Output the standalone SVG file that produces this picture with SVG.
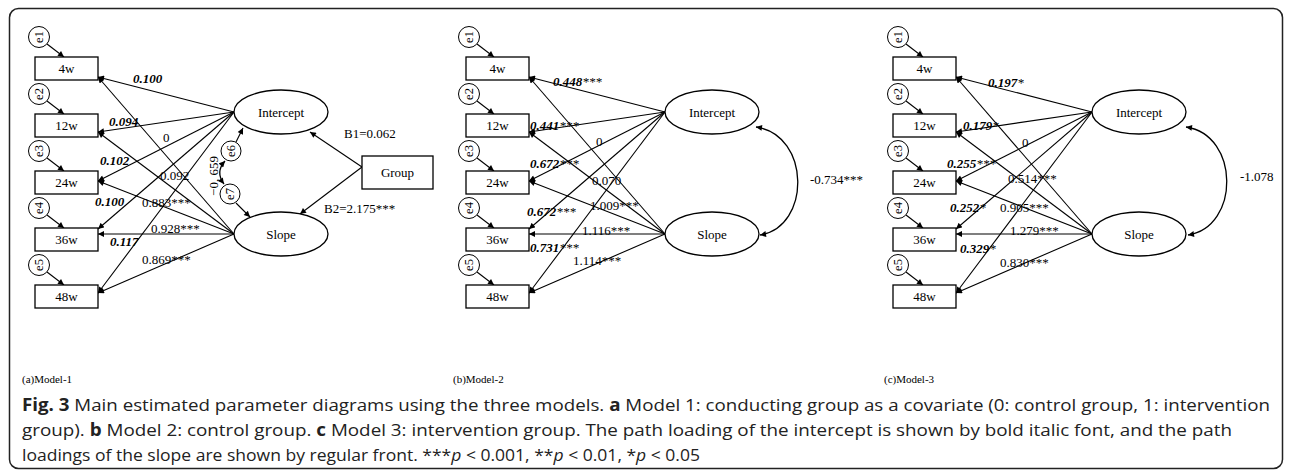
<svg xmlns="http://www.w3.org/2000/svg" width="1292" height="470" viewBox="0 0 1292 470">
<defs>
<marker id="ah" viewBox="0 0 10 10" refX="10" refY="5" markerWidth="7" markerHeight="6" orient="auto-start-reverse" markerUnits="userSpaceOnUse"><path d="M0,0 L10,5 L0,10 z" fill="#000"/></marker>
<style>
.box{fill:#fff;stroke:#000;stroke-width:1.3}
.ell{fill:#fff;stroke:#000;stroke-width:1.3}
.err{fill:#fff;stroke:#000;stroke-width:1}
.t{font-family:"Liberation Serif",serif;font-size:13px;fill:#000}
.c{text-anchor:middle}
.et{font-family:"Liberation Serif",serif;font-size:12.5px;fill:#000;text-anchor:middle}
.bi{font-weight:bold;font-style:italic}
.n{font-weight:normal}
.lab{font-family:"Liberation Serif",serif;font-size:11px;fill:#000}
.cap{font-family:"Open Sans","Noto Sans",sans-serif;font-size:17px;fill:#222}
.ln{fill:none;stroke:#000;stroke-width:1.1;marker-end:url(#ah)}
.dbl{fill:none;stroke:#000;stroke-width:1.3;marker-start:url(#ah);marker-end:url(#ah)}
</style>
</defs>
<rect x="9.5" y="8.5" width="1273" height="460" rx="9" fill="#fff" stroke="#222" stroke-width="1.5"/>

<g id="connectors">
<line class="ln" x1="47" y1="44" x2="64" y2="57"/>
<line class="ln" x1="47" y1="101" x2="64" y2="114"/>
<line class="ln" x1="47" y1="158" x2="64" y2="171"/>
<line class="ln" x1="47" y1="215" x2="64" y2="228"/>
<line class="ln" x1="47" y1="272" x2="64" y2="285"/>
<line class="ln" x1="234" y1="112" x2="98" y2="77"/>
<line class="ln" x1="234" y1="112" x2="98" y2="132"/>
<line class="ln" x1="234" y1="112" x2="98" y2="181"/>
<line class="ln" x1="234" y1="112" x2="98" y2="229"/>
<line class="ln" x1="234" y1="112" x2="98" y2="293"/>
<line class="ln" x1="234" y1="234" x2="98" y2="77"/>
<line class="ln" x1="234" y1="234" x2="98" y2="132"/>
<line class="ln" x1="234" y1="234" x2="98" y2="181"/>
<line class="ln" x1="234" y1="234" x2="98" y2="234"/>
<line class="ln" x1="234" y1="234" x2="98" y2="293"/>
<line class="ln" x1="362" y1="167" x2="310" y2="132"/>
<line class="ln" x1="362" y1="167" x2="300" y2="214"/>
<line class="ln" x1="236" y1="142" x2="243" y2="128"/>
<line class="ln" x1="236" y1="203" x2="250" y2="217"/>
<path class="dbl" d="M225,161 Q215,172 224,184"/>

<line class="ln" x1="477" y1="44" x2="494" y2="57"/>
<line class="ln" x1="477" y1="101" x2="494" y2="114"/>
<line class="ln" x1="477" y1="158" x2="494" y2="171"/>
<line class="ln" x1="477" y1="215" x2="494" y2="228"/>
<line class="ln" x1="477" y1="272" x2="494" y2="285"/>
<line class="ln" x1="665" y1="112" x2="529" y2="77"/>
<line class="ln" x1="665" y1="112" x2="529" y2="132"/>
<line class="ln" x1="665" y1="112" x2="529" y2="181"/>
<line class="ln" x1="665" y1="112" x2="529" y2="229"/>
<line class="ln" x1="665" y1="112" x2="529" y2="293"/>
<line class="ln" x1="665" y1="234" x2="529" y2="77"/>
<line class="ln" x1="665" y1="234" x2="529" y2="132"/>
<line class="ln" x1="665" y1="234" x2="529" y2="181"/>
<line class="ln" x1="665" y1="234" x2="529" y2="234"/>
<line class="ln" x1="665" y1="234" x2="529" y2="293"/>
<path class="dbl" d="M756,127 C811,135 811,227 760,235"/>

<line class="ln" x1="906" y1="44" x2="923" y2="57"/>
<line class="ln" x1="906" y1="101" x2="923" y2="114"/>
<line class="ln" x1="906" y1="158" x2="923" y2="171"/>
<line class="ln" x1="906" y1="215" x2="923" y2="228"/>
<line class="ln" x1="906" y1="272" x2="923" y2="285"/>
<line class="ln" x1="1092" y1="112" x2="956" y2="77"/>
<line class="ln" x1="1092" y1="112" x2="956" y2="132"/>
<line class="ln" x1="1092" y1="112" x2="956" y2="181"/>
<line class="ln" x1="1092" y1="112" x2="956" y2="229"/>
<line class="ln" x1="1092" y1="112" x2="956" y2="293"/>
<line class="ln" x1="1092" y1="234" x2="956" y2="77"/>
<line class="ln" x1="1092" y1="234" x2="956" y2="132"/>
<line class="ln" x1="1092" y1="234" x2="956" y2="181"/>
<line class="ln" x1="1092" y1="234" x2="956" y2="234"/>
<line class="ln" x1="1092" y1="234" x2="956" y2="293"/>
<path class="dbl" d="M1186,127 C1240,135 1240,227 1188,235"/>
</g>

<g id="m1-e1"><circle class="err" cx="39" cy="37" r="10.5"/><text class="et" transform="translate(39,37) rotate(-90)" y="4">e1</text></g>
<g id="m1-e2"><circle class="err" cx="39" cy="94" r="10.5"/><text class="et" transform="translate(39,94) rotate(-90)" y="4">e2</text></g>
<g id="m1-e3"><circle class="err" cx="39" cy="151" r="10.5"/><text class="et" transform="translate(39,151) rotate(-90)" y="4">e3</text></g>
<g id="m1-e4"><circle class="err" cx="39" cy="208" r="10.5"/><text class="et" transform="translate(39,208) rotate(-90)" y="4">e4</text></g>
<g id="m1-e5"><circle class="err" cx="39" cy="265" r="10.5"/><text class="et" transform="translate(39,265) rotate(-90)" y="4">e5</text></g>
<g id="m1-4w"><rect class="box" x="35" y="57" width="63" height="23"/><text class="t c" x="66.5" y="73">4w</text></g>
<g id="m1-12w"><rect class="box" x="35" y="114" width="63" height="23"/><text class="t c" x="66.5" y="130">12w</text></g>
<g id="m1-24w"><rect class="box" x="35" y="171" width="63" height="23"/><text class="t c" x="66.5" y="187">24w</text></g>
<g id="m1-36w"><rect class="box" x="35" y="228" width="63" height="23"/><text class="t c" x="66.5" y="244">36w</text></g>
<g id="m1-48w"><rect class="box" x="35" y="285" width="63" height="23"/><text class="t c" x="66.5" y="301">48w</text></g>
<g id="m1-intercept"><ellipse class="ell" cx="281" cy="112" rx="47" ry="22"/><text class="t c" x="281" y="116.5">Intercept</text></g>
<g id="m1-slope"><ellipse class="ell" cx="281" cy="234" rx="47" ry="22"/><text class="t c" x="281" y="238.5">Slope</text></g>
<g id="m1-e6"><circle class="err" cx="231" cy="151" r="10"/><text class="et" transform="translate(231,151) rotate(-90)" y="4">e6</text></g>
<g id="m1-e7"><circle class="err" cx="230" cy="194" r="10"/><text class="et" transform="translate(230,194) rotate(-90)" y="4">e7</text></g>
<g id="m1-group"><rect class="box" x="362" y="156" width="71" height="33"/><text class="t c" x="397.5" y="177">Group</text></g>

<g id="m1-labels">
<text class="t bi" x="133" y="83">0.100</text>
<text class="t bi" x="109" y="126">0.094</text>
<text class="t bi" x="100" y="164.5">0.102</text>
<text class="t bi" x="95" y="206">0.100</text>
<text class="t bi" x="110" y="246">0.117</text>
<text class="t" x="163" y="141.5">0</text>
<text class="t" x="160" y="179.5">0.092</text>
<text class="t" x="142" y="207">0.883***</text>
<text class="t" x="151" y="233">0.928***</text>
<text class="t" x="142" y="263.5">0.869***</text>
<text class="t" x="344" y="138">B1=0.062</text>
<text class="t" x="324" y="213">B2=2.175***</text>
<text class="t c" transform="translate(214,176) rotate(-90)" y="4">−0, 659</text>
</g>

<g id="m2-e1"><circle class="err" cx="469" cy="37" r="10.5"/><text class="et" transform="translate(469,37) rotate(-90)" y="4">e1</text></g>
<g id="m2-e2"><circle class="err" cx="469" cy="94" r="10.5"/><text class="et" transform="translate(469,94) rotate(-90)" y="4">e2</text></g>
<g id="m2-e3"><circle class="err" cx="469" cy="151" r="10.5"/><text class="et" transform="translate(469,151) rotate(-90)" y="4">e3</text></g>
<g id="m2-e4"><circle class="err" cx="469" cy="208" r="10.5"/><text class="et" transform="translate(469,208) rotate(-90)" y="4">e4</text></g>
<g id="m2-e5"><circle class="err" cx="469" cy="265" r="10.5"/><text class="et" transform="translate(469,265) rotate(-90)" y="4">e5</text></g>
<g id="m2-4w"><rect class="box" x="466" y="57" width="63" height="23"/><text class="t c" x="497.5" y="73">4w</text></g>
<g id="m2-12w"><rect class="box" x="466" y="114" width="63" height="23"/><text class="t c" x="497.5" y="130">12w</text></g>
<g id="m2-24w"><rect class="box" x="466" y="171" width="63" height="23"/><text class="t c" x="497.5" y="187">24w</text></g>
<g id="m2-36w"><rect class="box" x="466" y="228" width="63" height="23"/><text class="t c" x="497.5" y="244">36w</text></g>
<g id="m2-48w"><rect class="box" x="466" y="285" width="63" height="23"/><text class="t c" x="497.5" y="301">48w</text></g>
<g id="m2-intercept"><ellipse class="ell" cx="712" cy="112" rx="47" ry="22"/><text class="t c" x="712" y="116.5">Intercept</text></g>
<g id="m2-slope"><ellipse class="ell" cx="712" cy="234" rx="47" ry="22"/><text class="t c" x="712" y="238.5">Slope</text></g>
<g id="m2-labels">
<text class="t bi" x="553" y="86">0.448<tspan class="n">***</tspan></text>
<text class="t bi" x="530" y="129.5">0.441<tspan class="n">***</tspan></text>
<text class="t bi" x="530" y="167.5">0.672<tspan class="n">***</tspan></text>
<text class="t bi" x="527" y="216">0.672<tspan class="n">***</tspan></text>
<text class="t bi" x="530" y="251.5">0.731<tspan class="n">***</tspan></text>
<text class="t" x="596" y="146">0</text>
<text class="t" x="592" y="184.5">0.070</text>
<text class="t" x="590" y="210">1.009***</text>
<text class="t" x="582" y="235">1.116***</text>
<text class="t" x="573" y="264.5">1.114***</text>
<text class="t" x="810" y="184">-0.734***</text>
</g>

<g id="m3-e1"><circle class="err" cx="898" cy="37" r="10.5"/><text class="et" transform="translate(898,37) rotate(-90)" y="4">e1</text></g>
<g id="m3-e2"><circle class="err" cx="898" cy="94" r="10.5"/><text class="et" transform="translate(898,94) rotate(-90)" y="4">e2</text></g>
<g id="m3-e3"><circle class="err" cx="898" cy="151" r="10.5"/><text class="et" transform="translate(898,151) rotate(-90)" y="4">e3</text></g>
<g id="m3-e4"><circle class="err" cx="898" cy="208" r="10.5"/><text class="et" transform="translate(898,208) rotate(-90)" y="4">e4</text></g>
<g id="m3-e5"><circle class="err" cx="898" cy="265" r="10.5"/><text class="et" transform="translate(898,265) rotate(-90)" y="4">e5</text></g>
<g id="m3-4w"><rect class="box" x="893" y="57" width="63" height="23"/><text class="t c" x="924.5" y="73">4w</text></g>
<g id="m3-12w"><rect class="box" x="893" y="114" width="63" height="23"/><text class="t c" x="924.5" y="130">12w</text></g>
<g id="m3-24w"><rect class="box" x="893" y="171" width="63" height="23"/><text class="t c" x="924.5" y="187">24w</text></g>
<g id="m3-36w"><rect class="box" x="893" y="228" width="63" height="23"/><text class="t c" x="924.5" y="244">36w</text></g>
<g id="m3-48w"><rect class="box" x="893" y="285" width="63" height="23"/><text class="t c" x="924.5" y="301">48w</text></g>
<g id="m3-intercept"><ellipse class="ell" cx="1139" cy="112" rx="47" ry="22"/><text class="t c" x="1139" y="116.5">Intercept</text></g>
<g id="m3-slope"><ellipse class="ell" cx="1139" cy="234" rx="47" ry="22"/><text class="t c" x="1139" y="238.5">Slope</text></g>
<g id="m3-labels">
<text class="t bi" x="988" y="86.5">0.197<tspan class="n">*</tspan></text>
<text class="t bi" x="963" y="129.5">0.179<tspan class="n">*</tspan></text>
<text class="t bi" x="947" y="167.5">0.255<tspan class="n">***</tspan></text>
<text class="t bi" x="950" y="211.5">0.252<tspan class="n">*</tspan></text>
<text class="t bi" x="960" y="252.5">0.329<tspan class="n">*</tspan></text>
<text class="t" x="1022" y="146.5">0</text>
<text class="t" x="1008" y="182.5">0.514***</text>
<text class="t" x="1000" y="211.5">0.905***</text>
<text class="t" x="1010" y="235">1.279***</text>
<text class="t" x="1000" y="266.5">0.830***</text>
<text class="t" x="1240" y="181">-1.078</text>
</g>

<g id="panel-labels">
<text class="lab" x="22" y="383">(a)Model-1</text>
<text class="lab" x="453" y="383">(b)Model-2</text>
<text class="lab" x="884" y="383">(c)Model-3</text>
</g>

<g id="caption">
<text class="cap" x="22" y="411" textLength="1248" lengthAdjust="spacingAndGlyphs"><tspan font-weight="bold">Fig. 3</tspan> Main estimated parameter diagrams using the three models. <tspan font-weight="bold">a</tspan> Model 1: conducting group as a covariate (0: control group, 1: intervention</text>
<text class="cap" x="22" y="436" textLength="1210" lengthAdjust="spacingAndGlyphs">group). <tspan font-weight="bold">b</tspan> Model 2: control group. <tspan font-weight="bold">c</tspan> Model 3: intervention group. The path loading of the intercept is shown by bold italic font, and the path</text>
<text class="cap" x="22" y="461" textLength="678" lengthAdjust="spacingAndGlyphs">loadings of the slope are shown by regular front. ***<tspan font-style="italic">p</tspan> &lt; 0.001, **<tspan font-style="italic">p</tspan> &lt; 0.01, *<tspan font-style="italic">p</tspan> &lt; 0.05</text>
</g>
</svg>
